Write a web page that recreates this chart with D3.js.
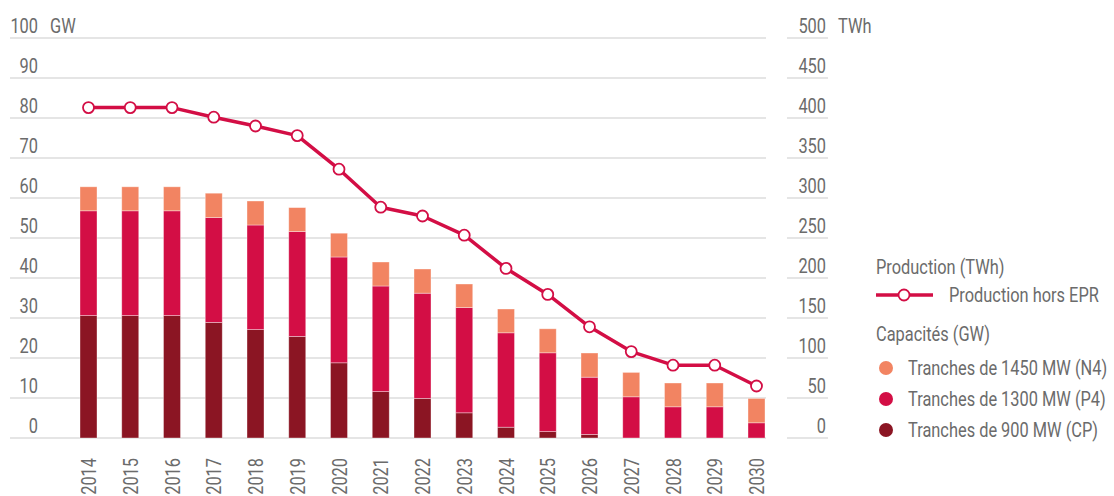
<!DOCTYPE html>
<html>
<head>
<meta charset="utf-8">
<script src="https://cdn.jsdelivr.net/npm/d3@7"></script>
<style>
body { margin: 0; background: #fff; }
svg { display: block; }
text { font-family: Roboto, "Liberation Sans", sans-serif; font-size: 21px; fill: #6b6b6b; }
.grid line { stroke: #dcdcdc; stroke-width: 1.5; }
</style>
</head>
<body>
<svg width="1114" height="496"></svg>
<script>
var years = ["2014","2015","2016","2017","2018","2019","2020","2021","2022","2023","2024","2025","2026","2027","2028","2029","2030"];
// capacités en GW
var cp = [30.6,30.6,30.6,28.9,27.1,25.4,18.8,11.6,9.9,6.3,2.7,1.6,0.9,0,0,0,0];
var p4 = [26.2,26.2,26.2,26.2,26.15,26.2,26.45,26.4,26.3,26.3,23.6,19.7,14.3,10.3,7.8,7.8,3.8];
var n4 = [6.0,6.0,6.0,6.1,6.0,6.0,5.95,6.0,6.05,5.9,5.95,6.0,6.05,6.1,5.95,5.95,6.1];
// production hors EPR en TWh
var prod = [413,413,413,401,390,378,336,288.5,277.5,253.5,212,179.5,139,108,91,91,65];

var gwTicks = [0,10,20,30,40,50,60,70,80,90,100];
var twhTicks = [0,50,100,150,200,250,300,350,400,450,500];

var series = [
  {key: "cp", name: "Tranches de 900 MW (CP)", color: "#8b1523", vals: cp},
  {key: "p4", name: "Tranches de 1300 MW (P4)", color: "#d30e45", vals: p4},
  {key: "n4", name: "Tranches de 1450 MW (N4)", color: "#f28462", vals: n4}
];
var lineColor = "#d30e45";
var sx = 0.78; // police condensée

var svg = d3.select("svg");

function label(parent, x, y, txt, anchor) {
  return parent.append("text")
    .attr("transform","translate("+x+","+y+") scale("+sx+",1)")
    .attr("text-anchor",anchor || "start")
    .text(txt);
}

var yL = d3.scaleLinear().domain([0,100]).range([438,38]);
var yR = d3.scaleLinear().domain([0,500]).range([438,38]);
var x = d3.scalePoint().domain(years).range([88.5,756.5]);
var barW = 17;

// grille gauche
var gl = svg.append("g").attr("class","grid");
gl.selectAll("line").data(gwTicks).enter().append("line")
  .attr("x1",10).attr("x2",766)
  .attr("y1",d=>yL(d)).attr("y2",d=>yL(d));
var tl = svg.append("g");
gwTicks.forEach(function(d){ label(tl, 38, yL(d)-5, d, "end"); });
label(svg, 50, yL(100)-5, "GW");

// grille droite
var gr = svg.append("g").attr("class","grid");
gr.selectAll("line").data(twhTicks).enter().append("line")
  .attr("x1",787).attr("x2",828)
  .attr("y1",d=>yR(d)).attr("y2",d=>yR(d));
var tr = svg.append("g");
twhTicks.forEach(function(d){ label(tr, 826, yR(d)-5, d, "end"); });
label(svg, 838, yR(500)-5, "TWh");

// barres empilées
var table = years.map(function(y,i){ return {year:y, cp:cp[i], p4:p4[i], n4:n4[i]}; });
var stack = d3.stack().keys(series.map(s=>s.key))(table);

svg.append("g").selectAll("g").data(stack).enter().append("g")
  .attr("fill",(d,i)=>series[i].color)
  .selectAll("rect").data(d=>d).enter().append("rect")
  .attr("x",d=>x(d.data.year)-barW/2)
  .attr("width",barW)
  .attr("y",d=>yL(d[1]))
  .attr("height",d=>yL(d[0])-yL(d[1]))
  .attr("stroke","#fff").attr("stroke-opacity",0.45).attr("stroke-width",0.8);

// axe des années
svg.append("g").selectAll("text").data(years).enter().append("text")
  .attr("transform",d=>"translate("+(x(d)+7.5)+",458) rotate(-90) scale("+sx+",1)")
  .attr("text-anchor","end")
  .text(d=>d);

// courbe de production
var line = d3.line().x((d,i)=>x(years[i])).y(d=>yR(d));
svg.append("path").datum(prod)
  .attr("d",line).attr("fill","none")
  .attr("stroke",lineColor).attr("stroke-width",3.5).attr("stroke-linejoin","round");
svg.append("g").selectAll("circle").data(prod).enter().append("circle")
  .attr("cx",(d,i)=>x(years[i])).attr("cy",d=>yR(d)).attr("r",5.5)
  .attr("fill","#fff").attr("stroke",lineColor).attr("stroke-width",1.8);

// légende
var lg = svg.append("g");
label(lg, 876, 274, "Production (TWh)");
lg.append("line").attr("x1",876).attr("x2",933).attr("y1",295).attr("y2",295)
  .attr("stroke",lineColor).attr("stroke-width",3.5);
lg.append("circle").attr("cx",904).attr("cy",295).attr("r",5.5)
  .attr("fill","#fff").attr("stroke",lineColor).attr("stroke-width",1.8);
label(lg, 949, 302, "Production hors EPR");
label(lg, 876, 341, "Capacités (GW)");

series.slice().reverse().forEach(function(d,i){
  var yy = 368 + i*31;
  lg.append("circle").attr("cx",886).attr("cy",yy).attr("r",7).attr("fill",d.color);
  label(lg, 908, yy+7, d.name);
});
</script>
</body>
</html>
